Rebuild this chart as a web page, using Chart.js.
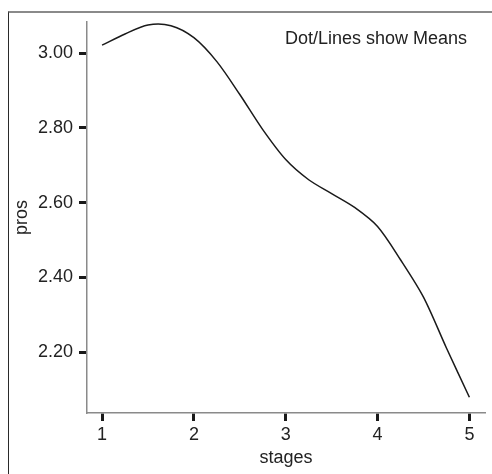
<!DOCTYPE html>
<html lang="en">
<head>
    <meta charset="UTF-8">
    <title>pros by stages</title>
    <script src="https://cdn.jsdelivr.net/npm/chart.js"></script>
    <style>
        body {
            margin: 0;
            background: #fff;
        }
        .wrap {
            position: relative;
            width: 492px;
            height: 474px;
            overflow: hidden;
        }
        .frame {
            position: absolute;
            left: 8px;
            top: 11px;
            width: 600px;
            height: 600px;
            border-top: 2px solid #8a8a8a;
            border-left: 1.5px solid #2a2a2a;
        }
        canvas {
            position: absolute;
            left: 0;
            top: 0;
        }
    </style>
</head>
<body>
    <div class="wrap">
        <div class="frame"></div>
        <canvas id="chart" width="492" height="474"></canvas>
    </div>

    <script>
        // valores (médias por estágio)
        const stages = [1, 1.25, 1.5, 1.75, 2, 2.25, 2.5, 2.75, 3, 3.25, 3.5, 3.75, 4, 4.25, 4.5, 4.75, 5];
        const pros = [3.021, 3.051, 3.075, 3.073, 3.041, 2.977, 2.889, 2.795, 2.715, 2.661, 2.624, 2.587, 2.536, 2.447, 2.347, 2.211, 2.079];

        const xTicks = [1, 2, 3, 4, 5];
        const yTicks = [2.2, 2.4, 2.6, 2.8, 3.0];
        const note = 'Dot/Lines show Means';

        const font = "'Liberation Sans', Arial, sans-serif";
        const textColor = '#222';

        // texto no canto superior direito
        const notePlugin = {
            id: 'note',
            afterDraw(chart) {
                const ctx = chart.ctx;
                const area = chart.chartArea;
                ctx.save();
                ctx.font = '18px ' + font;
                ctx.fillStyle = textColor;
                ctx.textAlign = 'right';
                ctx.textBaseline = 'alphabetic';
                ctx.fillText(note, area.right - 18, area.top + 22);
                ctx.restore();
            }
        };

        const ctx = document.getElementById('chart').getContext('2d');
        new Chart(ctx, {
            type: 'line',
            data: {
                datasets: [{
                    data: stages.map((s, i) => ({ x: s, y: pros[i] })),
                    borderColor: '#1a1a1a',
                    borderWidth: 1.5,
                    pointRadius: 0,
                    tension: 0.3,
                    fill: false
                }]
            },
            options: {
                responsive: false,
                animation: false,
                layout: { padding: { left: 0, right: 7, top: 22, bottom: 0 } },
                plugins: {
                    legend: { display: false },
                    tooltip: { enabled: false }
                },
                scales: {
                    x: {
                        type: 'linear',
                        min: 0.836,
                        max: 5.17,
                        afterBuildTicks: (axis) => { axis.ticks = xTicks.map(v => ({ value: v })); },
                        afterFit: (axis) => { axis.height = 61; },
                        border: { display: true, color: '#8a8a8a', width: 1.5 },
                        grid: {
                            display: true,
                            drawOnChartArea: false,
                            drawTicks: true,
                            tickLength: 8,
                            tickWidth: 3,
                            tickColor: '#1a1a1a'
                        },
                        ticks: {
                            padding: 3,
                            color: textColor,
                            font: { family: font, size: 18 },
                            callback: (v) => String(v)
                        },
                        title: {
                            display: true,
                            text: 'stages',
                            color: textColor,
                            font: { family: font, size: 18 },
                            padding: { top: 0, bottom: 5 }
                        }
                    },
                    y: {
                        min: 2.037,
                        max: 3.083,
                        afterBuildTicks: (axis) => { axis.ticks = yTicks.map(v => ({ value: v })); },
                        afterFit: (axis) => { axis.width = 87; },
                        border: { display: true, color: '#8a8a8a', width: 1.5 },
                        grid: {
                            display: true,
                            drawOnChartArea: false,
                            drawTicks: true,
                            tickLength: 8,
                            tickWidth: 3,
                            tickColor: '#1a1a1a'
                        },
                        ticks: {
                            padding: 6,
                            color: textColor,
                            font: { family: font, size: 18 },
                            callback: (v) => v.toFixed(2)
                        },
                        title: {
                            display: true,
                            text: 'pros',
                            color: textColor,
                            font: { family: font, size: 18 },
                            padding: { top: 11, bottom: 0 }
                        }
                    }
                }
            },
            plugins: [notePlugin]
        });
    </script>
</body>
</html>
